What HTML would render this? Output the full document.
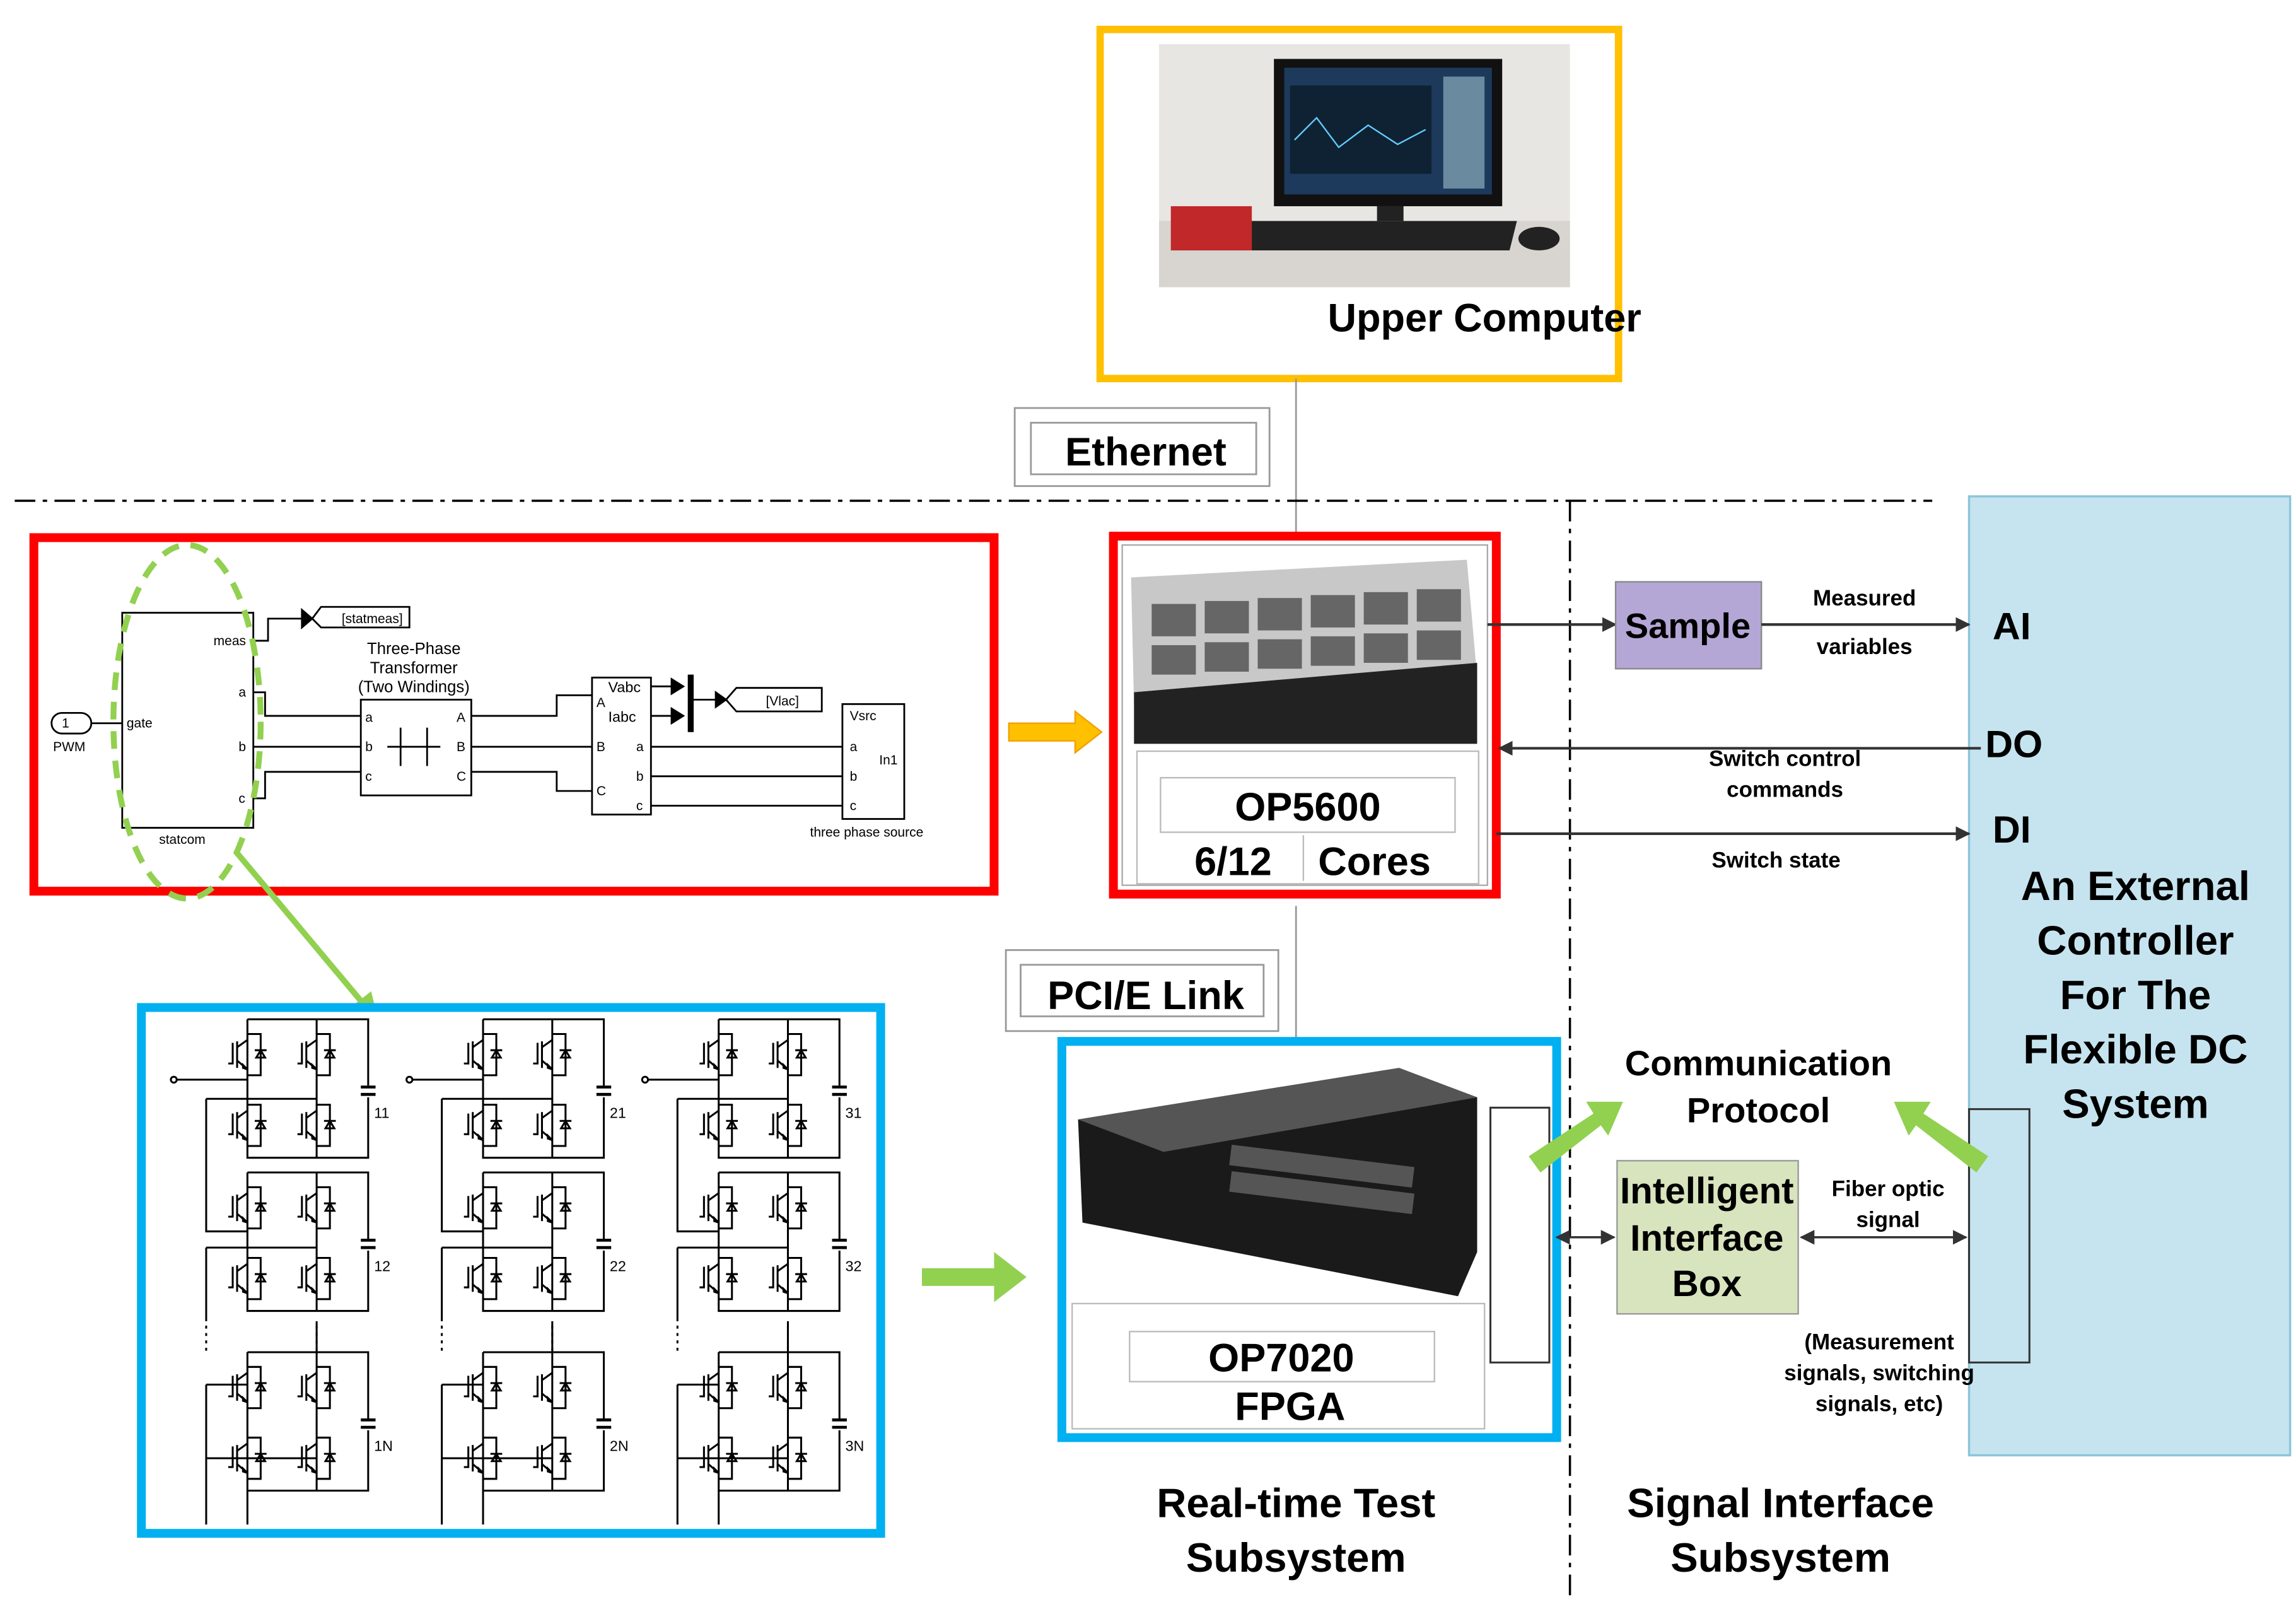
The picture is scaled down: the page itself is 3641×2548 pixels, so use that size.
<!DOCTYPE html>
<html><head><meta charset="utf-8"><style>
html,body{margin:0;padding:0;background:#fff}
svg{display:block}
text{font-family:"Liberation Sans",sans-serif}
.b{font-weight:bold}
</style></head><body>
<svg width="3641" height="2548" viewBox="0 0 1559 1091" xmlns="http://www.w3.org/2000/svg">
<defs>
<marker id="ar" markerWidth="10" markerHeight="10" refX="9" refY="5" orient="auto" markerUnits="userSpaceOnUse"><path d="M0,0 L10,5 L0,10 z" fill="#333"/></marker>
<marker id="ar2" markerWidth="10" markerHeight="10" refX="1" refY="5" orient="auto" markerUnits="userSpaceOnUse"><path d="M10,0 L0,5 L10,10 z" fill="#333"/></marker>
<g id="sw" fill="none" stroke="#000" stroke-width="1.3">
<path d="M0,0 H9 V28 H0"/>
<path d="M5,11 H13 M6,16 H12 L9,11 Z"/>
<path d="M-7,5 V23 M-7,9 L0,4 M-7,18 L0,24 M-13,20 H-10 V6"/>
<path d="M-3,21 L0,24 L-3,23 Z" fill="#000"/>
</g>
<g id="cell" fill="none" stroke="#000" stroke-width="1.3">
<path d="M0,0 H82 V45 M82,53 V94 H0 V0 M47,0 V94"/>
<path d="M77,46 H87 M77,51 H87" stroke-width="2"/>
<use href="#sw" x="0" y="10"/><use href="#sw" x="47" y="10"/>
<use href="#sw" x="0" y="58"/><use href="#sw" x="47" y="58"/>
</g>
<g id="col" fill="none" stroke="#000" stroke-width="1.3">
<use href="#cell" x="28" y="692"/>
<use href="#cell" x="28" y="796"/>
<use href="#cell" x="28" y="918"/>
<path d="M-22,733 H28 M0,746 H75 M0,746 V836 H28 M0,847 H75 M0,847 V897 M0,940 H28 M0,940 V1035 M0,990 H75 M28,1012 V1035 M75,897 V918"/>
<path d="M0,900 V918 M75,900 V918" stroke-dasharray="2,3"/>
<circle cx="-22" cy="733" r="2" fill="#fff"/>
</g>
</defs>

<rect x="747" y="20" width="352" height="237" fill="#fff" stroke="#FFC000" stroke-width="5"/>
<rect x="787" y="30" width="279" height="165" fill="#e8e6e2"/>
<rect x="787" y="150" width="279" height="45" fill="#d8d4cf"/>
<rect x="865" y="40" width="155" height="100" fill="#111"/>
<rect x="872" y="46" width="141" height="86" fill="#1d3a5c"/>
<rect x="876" y="58" width="96" height="60" fill="#0e2233"/>
<path d="M879,95 L894,80 L909,100 L929,85 L949,98 L968,88" stroke="#6cf" fill="none"/>
<rect x="980" y="52" width="28" height="76" fill="#6a8aa0"/>
<rect x="935" y="140" width="18" height="10" fill="#222"/>
<path d="M850,150 L1030,150 L1025,170 L845,170 Z" fill="#222"/>
<rect x="795" y="140" width="55" height="30" fill="#c0282a"/>
<ellipse cx="1045" cy="162" rx="14" ry="8" fill="#222"/>
<text x="1008" y="225" class="b" font-size="27" text-anchor="middle">Upper Computer</text>

<line x1="880" y1="257" x2="880" y2="375" stroke="#999" stroke-width="1.2"/>
<line x1="880" y1="615" x2="880" y2="707" stroke="#999" stroke-width="1.2"/>

<rect x="689" y="277" width="173" height="53" fill="#fff" stroke="#999" stroke-width="1.2"/>
<rect x="700" y="287" width="153" height="35" fill="#fff" stroke="#999" stroke-width="1.2"/>
<text x="778" y="316" class="b" font-size="27" text-anchor="middle">Ethernet</text>

<line x1="10" y1="340" x2="1312" y2="340" stroke="#000" stroke-width="1.5" stroke-dasharray="14,5,3,5"/>
<line x1="1066" y1="340" x2="1066" y2="1085" stroke="#000" stroke-width="1.5" stroke-dasharray="14,5,3,5"/>

<rect x="1337" y="337" width="218" height="651" fill="#c6e4ef" stroke="#8cc5da" stroke-width="1.5"/>
<rect x="1337" y="753" width="41" height="172" fill="none" stroke="#333" stroke-width="1.3"/>
<g class="b" font-size="28" text-anchor="middle">
<text x="1450" y="611">An External</text>
<text x="1450" y="648">Controller</text>
<text x="1450" y="685">For The</text>
<text x="1450" y="722">Flexible DC</text>
<text x="1450" y="759">System</text>
</g>
<g class="b" font-size="26">
<text x="1353" y="434">AI</text>
<text x="1348" y="514">DO</text>
<text x="1353" y="572">DI</text>
</g>

<rect x="23" y="365" width="652" height="240" fill="#fff" stroke="#f00" stroke-width="6"/>
<g fill="none" stroke="#000" stroke-width="1.2">
<rect x="83" y="416" width="89" height="146"/>
<path d="M62,491 H83"/>
<rect x="35" y="484" width="27" height="14" rx="7"/>
<path d="M172,435 H182 V420 H205"/>
<path d="M205,414 V426 L212,420 Z" fill="#000"/>
<path d="M212,420 L218,412 H278 V426 H218 Z"/>
<path d="M172,470 H180 V486 H245 M172,507 H245 M172,542 H180 V524 H245"/>
<rect x="245" y="475" width="75" height="65"/>
<path d="M320,486 H378 V472 H402 M320,507 H402 M320,524 H378 V537 H402"/>
<rect x="402" y="460" width="40" height="93"/>
<path d="M442,466 H460 M442,486 H460"/>
<path d="M456,461 V471 L464,466 Z M456,481 V491 L464,486 Z" fill="#000"/>
<path d="M469,458 V497" stroke-width="4"/>
<path d="M469,475 H486"/>
<path d="M486,470 V480 L493,475 Z" fill="#000"/>
<path d="M493,475 L500,467 H558 V483 H500 Z"/>
<path d="M442,507 H572 M442,527 H572 M442,547 H572"/>
<rect x="572" y="478" width="42" height="78"/>
<path d="M272,494 V520 M290,494 V520 M263,507 H299"/>
</g>
<g font-size="9" fill="#000">
<text x="42" y="494">1</text>
<text x="36" y="510">PWM</text>
<text x="86" y="494">gate</text>
<text x="145" y="438">meas</text>
<text x="162" y="473">a</text><text x="162" y="510">b</text><text x="162" y="545">c</text>
<text x="108" y="573">statcom</text>
<text x="232" y="423">[statmeas]</text>
<text x="281" y="444" text-anchor="middle" font-size="11">Three-Phase</text>
<text x="281" y="457" text-anchor="middle" font-size="11">Transformer</text>
<text x="281" y="470" text-anchor="middle" font-size="11">(Two Windings)</text>
<text x="248" y="490">a</text><text x="248" y="510">b</text><text x="248" y="530">c</text>
<text x="310" y="490">A</text><text x="310" y="510">B</text><text x="310" y="530">C</text>
<text x="413" y="470" font-size="10">Vabc</text>
<text x="413" y="490" font-size="10">Iabc</text>
<text x="405" y="480">A</text><text x="405" y="510">B</text><text x="405" y="540">C</text>
<text x="432" y="510">a</text><text x="432" y="530">b</text><text x="432" y="550">c</text>
<text x="520" y="479">[Vlac]</text>
<text x="577" y="489">Vsrc</text>
<text x="577" y="510">a</text><text x="577" y="530">b</text><text x="577" y="550">c</text>
<text x="597" y="519">In1</text>
<text x="550" y="568">three phase source</text>
</g>
<ellipse cx="127" cy="490" rx="50" ry="120" fill="none" stroke="#92D050" stroke-width="4" stroke-dasharray="12,8"/>
<line x1="160" y1="578" x2="248" y2="683" stroke="#92D050" stroke-width="4"/>
<path d="M257,693 L238,684 L252,673 Z" fill="#92D050"/>

<path d="M685,491 H730 V483 L748,497 L730,511 V503 H685 Z" fill="#FFC000" stroke="#f0a000"/>

<rect x="756" y="364" width="260" height="243" fill="#fff" stroke="#f00" stroke-width="6"/>
<rect x="762" y="370" width="248" height="231" fill="none" stroke="#aaa" stroke-width="1"/>
<path d="M768,392 L996,380 L1003,460 L770,478 Z" fill="#c8c8c8"/>
<g fill="#666">
<rect x="782" y="410" width="30" height="22"/><rect x="818" y="408" width="30" height="22"/><rect x="854" y="406" width="30" height="22"/><rect x="890" y="404" width="30" height="22"/><rect x="926" y="402" width="30" height="22"/><rect x="962" y="400" width="30" height="22"/>
<rect x="782" y="438" width="30" height="20"/><rect x="818" y="436" width="30" height="20"/><rect x="854" y="434" width="30" height="20"/><rect x="890" y="432" width="30" height="20"/><rect x="926" y="430" width="30" height="20"/><rect x="962" y="428" width="30" height="20"/>
</g>
<path d="M770,470 L1003,450 L1003,505 L770,505 Z" fill="#222"/>
<rect x="772" y="510" width="232" height="90" fill="#fff" stroke="#bbb"/>
<rect x="788" y="528" width="200" height="37" fill="#fff" stroke="#bbb"/>
<text x="888" y="557" class="b" font-size="27" text-anchor="middle">OP5600</text>
<text x="811" y="594" class="b" font-size="27">6/12</text>
<text x="895" y="594" class="b" font-size="27">Cores</text>
<line x1="885" y1="567" x2="885" y2="598" stroke="#bbb"/>

<line x1="1010" y1="424" x2="1097" y2="424" stroke="#333" stroke-width="1.8" marker-end="url(#ar)"/>
<rect x="1097" y="395" width="99" height="59" fill="#b4a7d6" stroke="#888"/>
<text x="1146" y="433" class="b" font-size="24" text-anchor="middle">Sample</text>
<line x1="1196" y1="424" x2="1337" y2="424" stroke="#333" stroke-width="1.8" marker-end="url(#ar)"/>
<g class="b" font-size="15" text-anchor="middle">
<text x="1266" y="411">Measured</text>
<text x="1266" y="444">variables</text>
<text x="1212" y="520">Switch control</text>
<text x="1212" y="541">commands</text>
<text x="1206" y="589">Switch state</text>
</g>
<line x1="1345" y1="508" x2="1018" y2="508" stroke="#333" stroke-width="1.8" marker-end="url(#ar)"/>
<line x1="1016" y1="566" x2="1337" y2="566" stroke="#333" stroke-width="1.8" marker-end="url(#ar)"/>

<rect x="683" y="645" width="185" height="55" fill="#fff" stroke="#999" stroke-width="1.2"/>
<rect x="693" y="655" width="165" height="35" fill="#fff" stroke="#999" stroke-width="1.2"/>
<text x="778" y="685" class="b" font-size="27" text-anchor="middle">PCI/E Link</text>

<rect x="96" y="684" width="502" height="357" fill="#fff" stroke="#00B0F0" stroke-width="6"/>
<use href="#col" x="140" y="0"/>
<use href="#col" x="300" y="0"/>
<use href="#col" x="460" y="0"/>
<g font-size="10" font-family="Liberation Serif">
<text x="254" y="759">11</text><text x="254" y="863">12</text><text x="254" y="985">1N</text>
<text x="414" y="759">21</text><text x="414" y="863">22</text><text x="414" y="985">2N</text>
<text x="574" y="759">31</text><text x="574" y="863">32</text><text x="574" y="985">3N</text>
</g>

<path d="M626,861 H675 V850 L697,867 L675,884 V873 H626 Z" fill="#92D050"/>

<rect x="721" y="707" width="336" height="269" fill="#fff" stroke="#00B0F0" stroke-width="6"/>
<path d="M732,760 L950,725 L1003,745 L1003,850 L990,880 L735,830 Z" fill="#1a1a1a"/>
<path d="M732,760 L950,725 L1003,745 L790,782 Z" fill="#555"/>
<g fill="#555">
<rect x="835" y="785" width="125" height="14" transform="rotate(7 900 792)"/>
<rect x="835" y="803" width="125" height="14" transform="rotate(7 900 810)"/>
</g>
<rect x="728" y="885" width="280" height="85" fill="#fff" stroke="#bbb"/>
<rect x="767" y="904" width="207" height="34" fill="#fff" stroke="#bbb"/>
<text x="870" y="931" class="b" font-size="27" text-anchor="middle">OP7020</text>
<text x="876" y="964" class="b" font-size="27" text-anchor="middle">FPGA</text>
<rect x="1012" y="752" width="40" height="173" fill="none" stroke="#333" stroke-width="1.3"/>

<g class="b" font-size="28" text-anchor="middle">
<text x="880" y="1030">Real-time Test</text>
<text x="880" y="1067">Subsystem</text>
<text x="1209" y="1030">Signal Interface</text>
<text x="1209" y="1067">Subsystem</text>
</g>

<g class="b" font-size="24" text-anchor="middle">
<text x="1194" y="730">Communication</text>
<text x="1194" y="762">Protocol</text>
</g>
<path d="M1038,785 L1082,756 L1077,748 L1102,748 L1092,771 L1087,764 L1046,796 Z" fill="#92D050"/>
<path d="M1350,785 L1306,756 L1311,748 L1286,748 L1296,771 L1301,764 L1342,796 Z" fill="#92D050"/>

<rect x="1098" y="788" width="123" height="104" fill="#d7e4bd" stroke="#999"/>
<g class="b" font-size="25" text-anchor="middle">
<text x="1159" y="817">Intelligent</text>
<text x="1159" y="849">Interface</text>
<text x="1159" y="880">Box</text>
</g>
<line x1="1223" y1="840" x2="1335" y2="840" stroke="#333" stroke-width="1.5" marker-start="url(#ar2)" marker-end="url(#ar)"/>
<line x1="1057" y1="840" x2="1096" y2="840" stroke="#333" stroke-width="1.5" marker-start="url(#ar2)" marker-end="url(#ar)"/>
<g class="b" font-size="15" text-anchor="middle">
<text x="1282" y="812">Fiber optic</text>
<text x="1282" y="833">signal</text>
<text x="1276" y="916">(Measurement</text>
<text x="1276" y="937">signals, switching</text>
<text x="1276" y="958">signals, etc)</text>
</g>
</svg>
</body></html>
